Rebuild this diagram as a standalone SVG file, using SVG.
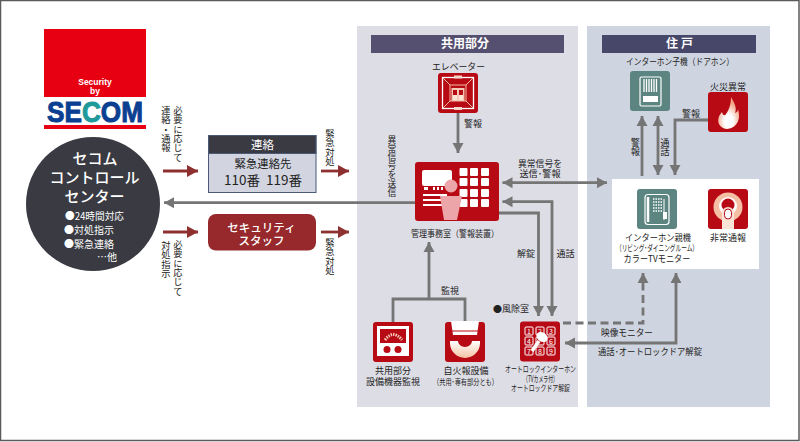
<svg xmlns="http://www.w3.org/2000/svg" width="800" height="442" viewBox="0 0 800 442">
<defs>
<marker id="g" markerUnits="userSpaceOnUse" markerWidth="12" markerHeight="12" refX="10" refY="6" orient="auto-start-reverse"><path d="M0 0.5L10 6L0 11.500z" fill="#757575"/></marker>
<marker id="r" markerUnits="userSpaceOnUse" markerWidth="12" markerHeight="13" refX="11" refY="6.500" orient="auto"><path d="M0 0.500L11 6.500L0 12.500z" fill="#8f3030"/></marker>
<linearGradient id="fade" x1="0" y1="0" x2="0" y2="1"><stop offset="0" stop-color="#fff"/><stop offset="1" stop-color="#f6c3a3"/></linearGradient>
<radialGradient id="fl" cx="0.500" cy="0.750" r="0.600"><stop offset="0.350" stop-color="#fff"/><stop offset="1" stop-color="#f2a080"/></radialGradient>
</defs>
<style>
text{font-family:"Noto Sans CJK JP","Noto Sans",sans-serif;fill:#222;text-anchor:middle}
.s{font-size:9px}
.xs{font-size:8.500px}
.v{font-size:9.300px;writing-mode:vertical-rl;text-anchor:start}
.w{fill:#fff}
.ic{fill:#b70a14}
.te{fill:#5c8581}
.c{fill:none;stroke:#757575;stroke-width:2.800}
.rc{fill:none;stroke:#8f3030;stroke-width:2.800;marker-end:url(#r)}
</style>
<rect x="0.500" y="0.500" width="798.500" height="440" fill="#fff" stroke="#5a5a5a" stroke-width="1.500"/>
<g id="panels">
<rect x="357" y="26" width="221" height="381" fill="#dddde5"/>
<rect x="587" y="26" width="183" height="381" fill="#cfd5e0"/>
<rect x="371" y="35" width="193" height="18" fill="#55506f"/>
<rect x="602" y="35" width="154" height="18" fill="#47476a"/>
<rect x="612" y="179" width="147" height="90" fill="#fff"/>
<text x="465" y="48" class="w" font-size="12" font-weight="700">共用部分</text>
<text x="681" y="48" class="w" font-size="12" font-weight="700" letter-spacing="3">住戸</text>
</g>
<g id="connectors">
<path class="c" d="M415 202.700H164" marker-end="url(#g)"/>
<path class="c" d="M458 113V153" marker-end="url(#g)"/>
<path class="c" d="M502.500 182.700H607" marker-start="url(#g)" marker-end="url(#g)"/>
<path class="c" d="M502.500 201.700H552V316" marker-start="url(#g)" marker-end="url(#g)"/>
<path class="c" d="M499 213H538.500V316" marker-end="url(#g)"/>
<path class="c" d="M393 322V299H465V322M429 299V242" marker-end="url(#g)"/>
<path class="c" d="M563 323H643V273" stroke-dasharray="8 4.500" marker-end="url(#g)"/>
<path class="c" d="M565 343H676V273" marker-start="url(#g)" marker-end="url(#g)"/>
<path class="c" d="M642 176V116" marker-end="url(#g)"/>
<path class="c" d="M658 175V116" marker-start="url(#g)" marker-end="url(#g)"/>
<path class="c" d="M708 120H675V175" marker-end="url(#g)"/>
<path class="rc" d="M163 171H198"/>
<path class="rc" d="M321 171H349"/>
<path class="rc" d="M163 232H198"/>
<path class="rc" d="M321 232H349"/>
</g>
<g id="labels">
<text class="v" x="178" y="106">必要に応じて</text>
<text class="v" x="166" y="106">連絡・通報</text>
<text class="v" x="330" y="129">緊急対処</text>
<text class="v" x="178" y="240">必要に応じて</text>
<text class="v" x="166" y="241">対処指示</text>
<text class="v" x="330" y="238">緊急対処</text>
<text class="v" x="392" y="135" style="font-size:8.800px">異常信号を送信</text>
<text class="s" x="473" y="126.500">警報</text>
<text class="s" x="540" y="166.500" textLength="44" lengthAdjust="spacingAndGlyphs">異常信号を</text>
<text class="s" x="540" y="176.500" textLength="41" lengthAdjust="spacingAndGlyphs">送信･警報</text>
<text class="s" x="526" y="256.500">解錠</text>
<text class="s" x="565.500" y="256.500">通話</text>
<text class="s" x="450" y="293.500">監視</text>
<text class="s" x="511" y="311.500">●風除室</text>
<text class="s" x="627" y="335.500" textLength="52" lengthAdjust="spacingAndGlyphs">映像モニター</text>
<text class="s" x="650" y="354.500" textLength="104" lengthAdjust="spacingAndGlyphs">通話･オートロックドア解錠</text>
<text class="s" x="691" y="116.500">警報</text>
<text class="v" x="635.500" y="138">警報</text>
<text class="v" x="665" y="138">通話</text>
</g>
<g id="logo">
<rect x="44" y="29" width="102" height="68" fill="#e60012"/>
<rect x="44" y="125" width="102" height="4" fill="#e60012"/>
<text x="95" y="85" class="w" style="font-family:'Liberation Sans',sans-serif" font-size="8.500" font-weight="700">Security</text>
<text x="95" y="94" class="w" style="font-family:'Liberation Sans',sans-serif" font-size="8.500" font-weight="700">by</text>
<text x="95" y="122" style="font-family:'Liberation Sans',sans-serif;fill:#0b3f92;stroke:#0b3f92;stroke-width:1" font-size="30" font-weight="700" textLength="96" lengthAdjust="spacingAndGlyphs">SE<tspan style="fill:#1f9a9a;stroke:#1f9a9a">C</tspan>OM</text>
</g>
<g id="control-center">
<circle cx="93" cy="204" r="67" fill="#393a42"/>
<text x="95" y="163.500" class="w" font-size="15" font-weight="500">セコム</text>
<text x="94.500" y="182.500" class="w" font-size="15" font-weight="500">コントロール</text>
<text x="94.500" y="201.500" class="w" font-size="15" font-weight="500">センター</text>
<text x="94.500" y="219.500" class="w" font-size="10" textLength="59" lengthAdjust="spacingAndGlyphs">●24時間対応</text>
<text x="89" y="233.500" class="w" font-size="10">●対処指示</text>
<text x="89" y="247.500" class="w" font-size="10">●緊急連絡</text>
<text x="107" y="260.500" class="w" font-size="10">…他</text>
</g>
<g id="contact">
<rect x="208.500" y="135.500" width="107.500" height="57" fill="#d2d5e0" stroke="#4a5a78"/>
<rect x="208.500" y="135.500" width="107.500" height="18" fill="#393a42" stroke="#4a5a78"/>
<text x="262.500" y="149" class="w" font-size="11.500">連絡</text>
<text x="263" y="167.500" font-size="11.400">緊急連絡先</text>
<text x="263" y="185" font-size="13" textLength="78" lengthAdjust="spacingAndGlyphs">110番&#160;&#160;119番</text>
</g>
<g id="security-staff">
<rect x="208" y="214" width="108" height="36.500" rx="8" fill="#97292d"/>
<text x="261.500" y="231.500" class="w" font-size="11.500" font-weight="500">セキュリティ</text>
<text x="261.500" y="244.500" class="w" font-size="11.500" font-weight="500">スタッフ</text>
</g>
<g id="elevator">
<text class="s" x="458.500" y="69.500" textLength="53" lengthAdjust="spacingAndGlyphs">エレベーター</text>
<rect class="ic" x="438" y="73" width="40" height="40" rx="3"/>
<rect x="442.500" y="77.500" width="31" height="31" fill="none" stroke="#fff" stroke-width="1.300"/>
<path d="M443 78L450 85H466L473 78M443 108L450 101H466L473 108M450 85V101M466 85V101" fill="none" stroke="#f7b9a0" stroke-width="1"/>
<rect x="451.500" y="88" width="13" height="13" fill="#f4c8b4"/>
<path d="M453 90h4v5h-4zM459 90h4v5h-4z" class="ic"/>
<path d="M453 95h4v5h-4zM459 95h4v5h-4z" fill="#fbe3d6"/>
<rect x="454" y="75.500" width="8" height="3" fill="#f4d6c8"/>
<rect x="454" y="107" width="8" height="3" fill="#f4d6c8"/>
</g>
<g id="management-room">
<rect class="ic" x="415" y="162" width="84" height="59" rx="3"/>
<rect x="422" y="170" width="30" height="16" rx="2" fill="#fff"/>
<path d="M424 187h4v3h-4zM433 187h2v3h-2zM437 187h2v3h-2zM441 187h2v3h-2z" fill="#fff"/>
<path d="M423 194h24v2h-24zM423 199h24v2h-24zM423 204h24v2h-24z" fill="#fff"/>
<g fill="#fff">
<rect x="459.500" y="168" width="8" height="8" rx="1"/><rect x="470" y="168" width="8" height="8" rx="1"/><rect x="481" y="168" width="8" height="8" rx="1"/>
<rect x="459.500" y="178" width="8" height="8" rx="1"/><rect x="470" y="178" width="8" height="8" rx="1"/><rect x="481" y="178" width="8" height="8" rx="1"/>
<rect x="459.500" y="189" width="8" height="8" rx="1"/><rect x="470" y="189" width="8" height="8" rx="1"/><rect x="481" y="189" width="8" height="8" rx="1"/>
<rect x="459.500" y="199" width="8" height="8" rx="1"/><rect x="470" y="199" width="8" height="8" rx="1"/><rect x="481" y="199" width="8" height="8" rx="1"/>
</g>
<circle cx="451" cy="186" r="6.500" fill="#eca5a8"/>
<path d="M440 196H462L457 220H444z" fill="#eca5a8"/>
<text class="s" x="455" y="236.500" textLength="88" lengthAdjust="spacingAndGlyphs">管理事務室（警報装置）</text>
</g>
<g id="equipment-monitor">
<rect class="ic" x="373" y="322" width="40" height="40" rx="3"/>
<rect x="377" y="326" width="32" height="30" fill="#fff"/>
<rect x="380" y="329" width="26" height="14" fill="#b70a14"/>
<path d="M385 340Q393 329 402 340" fill="none" stroke="#f6c8b4" stroke-width="3" stroke-dasharray="1.500 1"/>
<circle cx="387" cy="349.500" r="3.500" class="ic"/><circle cx="398" cy="349.500" r="3.500" class="ic"/>
<text class="s" x="393" y="373.500">共用部分</text>
<text class="s" x="393" y="384.500">設備機器監視</text>
</g>
<g id="fire-alarm">
<rect class="ic" x="445" y="322" width="40" height="40" rx="3"/>
<path d="M451 321H479L477 335H453z" fill="#fff"/>
<path d="M451.500 331H478.500" stroke="#b70a14" stroke-width="1"/>
<path d="M450 341H458A7 6 0 0 0 472 341H480V343A15 15 0 0 1 450 343z" fill="url(#fade)"/>
<text class="s" x="466" y="373.500">自火報設備</text>
<text class="xs" x="465.500" y="384.500" textLength="65" lengthAdjust="spacingAndGlyphs">（共用･専有部分とも）</text>
</g>
<g id="auto-lock">
<rect class="ic" x="520" y="321.500" width="40" height="40" rx="3"/>
<g fill="none" stroke="#fff" stroke-width="1"><rect x="525" y="327" width="8" height="8" rx="1"/><rect x="536" y="327" width="8" height="8" rx="1"/><rect x="547" y="327" width="8" height="8" rx="1"/><rect x="525" y="337" width="8" height="8" rx="1"/><rect x="536" y="337" width="8" height="8" rx="1"/><rect x="547" y="337" width="8" height="8" rx="1"/><rect x="525" y="347" width="8" height="8" rx="1"/><rect x="536" y="347" width="8" height="8" rx="1"/><rect x="547" y="347" width="8" height="8" rx="1"/></g>
<g font-size="7"><text x="529" y="334" class="w">1</text><text x="540" y="334" class="w">2</text><text x="551" y="334" class="w">3</text><text x="529" y="344" class="w">4</text><text x="551" y="344" class="w">6</text><text x="529" y="354" class="w">7</text><text x="540" y="354" class="w">8</text><text x="551" y="354" class="w">9</text></g>
<ellipse cx="542" cy="337" rx="6" ry="4.500" transform="rotate(35 542 337)" fill="#fff"/>
<path d="M539 341L532 351" stroke="#fff" stroke-width="3.500"/>
<text class="xs" x="540.500" y="372" textLength="71" lengthAdjust="spacingAndGlyphs">オートロックインターホン</text>
<text class="xs" x="540.500" y="381.500" textLength="35" lengthAdjust="spacingAndGlyphs">（TVカメラ付）</text>
<text class="xs" x="540.500" y="391" textLength="59" lengthAdjust="spacingAndGlyphs">オートロックドア解錠</text>
</g>
<g id="door-intercom">
<text class="s" x="680" y="64.500" textLength="108" lengthAdjust="spacingAndGlyphs">インターホン子機（ドアホン）</text>
<rect class="te" x="630" y="71" width="40" height="40" rx="3"/>
<rect x="640" y="77" width="21" height="29" rx="1.500" fill="none" stroke="#fff" stroke-width="1.200"/>
<path d="M644 79v13M646.500 79v13M649 79v13M651.500 79v13M654 79v13M656.500 79v13" stroke="#fff" stroke-width="1.300"/>
<rect x="643" y="96" width="15" height="6" fill="#fff"/>
</g>
<g id="fire">
<text class="s" x="728" y="89.500">火災異常</text>
<rect class="ic" x="708" y="92" width="40" height="40" rx="3"/>
<path d="M727 129C717 128 716 118 722 112C723 116 725 116 726 114C729 110 731 104 731 97C735 104 737 108 735 113C737 112 738 111 738 109C741 118 738 128 727 129z" fill="url(#fl)"/>
</g>
<g id="main-intercom">
<rect class="te" x="637" y="189" width="40" height="40" rx="3"/>
<rect x="645" y="194.500" width="24" height="30" rx="3" fill="none" stroke="#fff" stroke-width="1.200"/>
<path d="M648 197v25" stroke="#fff" stroke-width="2.500"/>
<path d="M653 199h9M653 202h9M653 205h9M653 208h9M653 211h9" stroke="#fff" stroke-width="1.500" stroke-dasharray="1.500 1"/>
<path d="M664 199V220" stroke="#fff" stroke-width="1"/>
<rect x="663" y="212" width="4" height="7" fill="#fff"/>
<text class="s" x="658" y="240.500" textLength="66" lengthAdjust="spacingAndGlyphs">インターホン親機</text>
<text class="xs" x="657" y="251" textLength="82" lengthAdjust="spacingAndGlyphs">（リビング･ダイニングルーム）</text>
<text class="s" x="657" y="261.500" textLength="67" lengthAdjust="spacingAndGlyphs">カラーTVモニター</text>
</g>
<g id="emergency">
<rect class="ic" x="708" y="189" width="40" height="40" rx="3"/>
<circle cx="728" cy="207" r="14.500" fill="#f5bfa5"/>
<circle cx="728" cy="206" r="9" fill="#fff"/>
<circle cx="728" cy="205" r="6.500" class="ic"/>
<path d="M722 229V213A6 6 0 0 1 734 213V229z" fill="#fbe3d6"/>
<rect x="724.500" y="209" width="7" height="10" rx="3.500" fill="#fff" stroke="#b70a14"/>
<text class="s" x="728" y="240.500">非常通報</text>
</g>
</svg>
